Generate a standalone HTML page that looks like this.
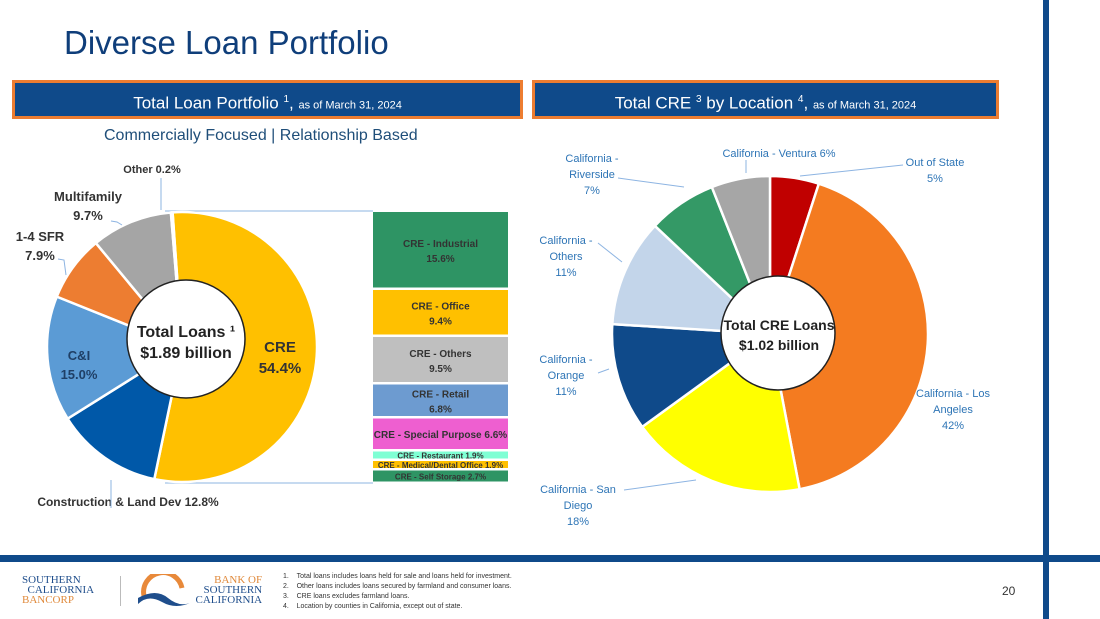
<!DOCTYPE html>
<html><head><meta charset="utf-8">
<style>
body{margin:0;width:1100px;height:619px;background:#fff;position:relative;overflow:hidden;font-family:"Liberation Sans",sans-serif}
.abs{position:absolute}
.banner{position:absolute;top:80px;height:33px;background:#0F4A8A;border:3px solid #ED7D31;color:#fff;font-size:17px;text-align:center;line-height:33px}
.banner small{font-size:11px}
.fn{font-size:7px;color:#333;line-height:10px}
</style></head><body>
<div class="abs" style="left:1043px;top:0;width:6px;height:619px;background:#0F4A8A"></div>
<div class="abs" style="left:0;top:555px;width:1100px;height:7px;background:#0F4A8A"></div>
<div class="abs" style="left:64px;top:24px;font-size:33px;color:#0F3E7A">Diverse Loan Portfolio</div>
<div class="banner" style="left:12px;width:505px">Total Loan Portfolio <sup style="font-size:10px">1</sup>, <small>as of March 31, 2024</small></div>
<div class="banner" style="left:532px;width:461px">Total CRE <sup style="font-size:10px">3</sup> by Location <sup style="font-size:10px">4</sup>, <small>as of March 31, 2024</small></div>
<div class="abs" style="left:104px;top:127px;font-size:16px;color:#1F4E79">Commercially Focused | Relationship Based</div>

<svg class="abs" style="left:0;top:0" width="1100" height="619">
<g id="left"></g><g id="bars"></g><g id="right"></g>
</svg>

<div class="abs" style="left:22px;top:575px;font-family:'Liberation Serif',serif;font-size:11px;line-height:10px;color:#1F4E8C">SOUTHERN<br>&nbsp;&nbsp;CALIFORNIA<br><span style="color:#E08A3C">BANCORP</span></div>
<div class="abs" style="left:120px;top:576px;width:1px;height:30px;background:#bbb"></div>
<svg class="abs" style="left:136px;top:574px" width="56" height="36"><path d="M8 22 A19 19 0 0 1 46 14" stroke="#E8893A" stroke-width="5" fill="none"/><path d="M2 24 Q20 14 32 24 T56 28 Q40 36 26 28 T2 30Z" fill="#1F4E8C"/></svg>
<div class="abs" style="left:190px;top:575px;font-family:'Liberation Serif',serif;font-size:11px;line-height:10px;color:#1F4E8C;text-align:right"><span style="color:#E08A3C">BANK OF</span><br>SOUTHERN<br>&nbsp;&nbsp;CALIFORNIA</div>
<div class="abs fn" style="left:283px;top:572px">1.&nbsp;&nbsp;&nbsp;&nbsp;Total loans includes loans held for sale and loans held for investment.<br>2.&nbsp;&nbsp;&nbsp;&nbsp;Other loans includes loans secured by farmland and consumer loans.<br>3.&nbsp;&nbsp;&nbsp;&nbsp;CRE loans excludes farmland loans.<br>4.&nbsp;&nbsp;&nbsp;&nbsp;Location by counties in California, except out of state.</div>
<div class="abs" style="left:1002px;top:584px;font-size:12px;color:#333">20</div>

<script>
const loanCats=["CRE","Construction & Land Dev","C&I","1-4 SFR","Multifamily","Other"];
const loanVals=[54.4,12.8,15.0,7.9,9.7,0.2];
const loanColors=["#FFC000","#0058A8","#5B9BD5","#ED7D31","#A5A5A5","#D9D9D9"];
const creCats=["CRE - Industrial","CRE - Office","CRE - Others","CRE - Retail","CRE - Special Purpose","CRE - Restaurant","CRE - Medical/Dental Office","CRE - Self Storage"];
const creVals=[15.6,9.4,9.5,6.8,6.6,1.9,1.9,2.7];
const creColors=["#2E9464","#FFC000","#BFBFBF","#6D9BD0","#EE5FD0","#7FFFD4","#FFC000","#2E9464"];
const locCats=["Out of State","California - Los Angeles","California - San Diego","California - Orange","California - Others","California - Riverside","California - Ventura"];
const locVals=[5,42,18,11,11,7,6];
const locColors=["#C00000","#F47B20","#FFFF00","#0F4A8A","#C3D5EA","#349966","#A6A6A6"];
const NS="http://www.w3.org/2000/svg";
function mk(t,a,p){const e=document.createElementNS(NS,t);for(const k in a)e.setAttribute(k,a[k]);p.appendChild(e);return e;}
function pt(cx,cy,r,a){return [cx+r*Math.sin(a),cy-r*Math.cos(a)];}
function donut(g,cx,cy,r,vals,cols,start,names){
  const tot=vals.reduce((a,b)=>a+b,0);let a=start;
  vals.forEach((v,i)=>{const a2=a+v/tot*2*Math.PI;const p1=pt(cx,cy,r,a),p2=pt(cx,cy,r,a2);
    const large=(a2-a)>Math.PI?1:0;
    const s=mk('path',{d:`M${cx},${cy}L${p1[0]},${p1[1]}A${r},${r} 0 ${large} 1 ${p2[0]},${p2[1]}Z`,fill:cols[i],stroke:'#fff','stroke-width':2.5},g);
    
    
    a=a2;});
}
function txt(g,x,y,lines,o){const t=mk('text',{x:x,y:y,'text-anchor':o.anchor||'middle','font-size':o.size||12,fill:o.fill||'#333','font-weight':o.bold?'bold':'normal'},g);
  lines.forEach((l,i)=>{const s=mk('tspan',{x:x,dy:i?(o.lh||16):0},t);s.textContent=l;});return t;}
function line(g,pts,c){mk('polyline',{points:pts,fill:'none',stroke:c||'#8DB4E2','stroke-width':1},g);}

const L=document.getElementById('left');
line(L,"165,211 373,211");line(L,"165,483 373,483");
donut(L,182,347,135,loanVals,loanColors,-4*Math.PI/180,loanCats);
const lc=mk('circle',{cx:186,cy:339,r:59,fill:'#fff',stroke:'#222','stroke-width':1.5},L);


txt(L,186,337,["Total Loans ¹","$1.89 billion"],{size:16,bold:true,fill:'#222',lh:21});
txt(L,280,352,["CRE",loanVals[0].toFixed(1)+"%"],{size:15,bold:true,fill:'#333',lh:21});
txt(L,79,360,["C&I",loanVals[2].toFixed(1)+"%"],{size:13,bold:true,fill:'#1F3F66',lh:19});
txt(L,128,506,["Construction & Land Dev "+loanVals[1]+"%"],{size:12,bold:true});
txt(L,40,241,["1-4 SFR",loanVals[3]+"%"],{size:13,bold:true,lh:19});
txt(L,88,201,["Multifamily",loanVals[4]+"%"],{size:13,bold:true,lh:19});
txt(L,152,173,["Other "+loanVals[5]+"%"],{size:11,bold:true});
line(L,"111,221 117,222 122,225");line(L,"58,259 64,260 66,275");line(L,"161,178 161,210");line(L,"111,480 111,508");

const B=document.getElementById('bars');
const barTot=creVals.reduce((a,b)=>a+b,0);const top0=211,h0=272,bx=373,bw=135;
let y=top0;
creVals.forEach((v,i)=>{const h=v/barTot*h0;
  const r=mk('rect',{x:bx,y:y+1,width:bw,height:Math.max(h-2.5,3),fill:creColors[i]},B);
  
  
  const c=bx+bw/2;
  if(creCats[i]==="CRE - Special Purpose") txt(B,c,y+h/2+4,[creCats[i]+" "+v+"%"],{size:10,bold:true,fill:'#333'});
  else if(h>25){txt(B,c,y+h/2-3,[creCats[i],v.toFixed(1)+"%"],{size:10,bold:true,lh:15,fill:'#333'});}
  else txt(B,c,y+h/2+3,[creCats[i]+" "+v+"%"],{size:8,bold:true,fill:'#333'});
  y+=h;});

const R=document.getElementById('right');
const lb='#2E75B6';
line(R,"800,176 903,165");line(R,"746,173 746,160");line(R,"684,187 618,178");line(R,"622,262 598,243");line(R,"609,369 598,373");line(R,"696,480 624,490");
donut(R,770,334,158,locVals,locColors,0,locCats);
const rc=mk('circle',{cx:778,cy:333,r:57,fill:'#fff',stroke:'#222','stroke-width':1.5},R);


txt(R,779,330,["Total CRE Loans","$1.02 billion"],{size:14,bold:true,fill:'#222',lh:20});
txt(R,935,166,["Out of State",locVals[0]+"%"],{size:11,fill:lb,lh:16});
txt(R,779,157,["California - Ventura "+locVals[6]+"%"],{size:11,fill:lb});
txt(R,592,162,["California -","Riverside",locVals[5]+"%"],{size:11,fill:lb,lh:16});
txt(R,566,244,["California -","Others",locVals[4]+"%"],{size:11,fill:lb,lh:16});
txt(R,566,363,["California -","Orange",locVals[3]+"%"],{size:11,fill:lb,lh:16});
txt(R,578,493,["California - San","Diego",locVals[2]+"%"],{size:11,fill:lb,lh:16});
txt(R,953,397,["California - Los","Angeles",locVals[1]+"%"],{size:11,fill:lb,lh:16});
</script>
</body></html>
